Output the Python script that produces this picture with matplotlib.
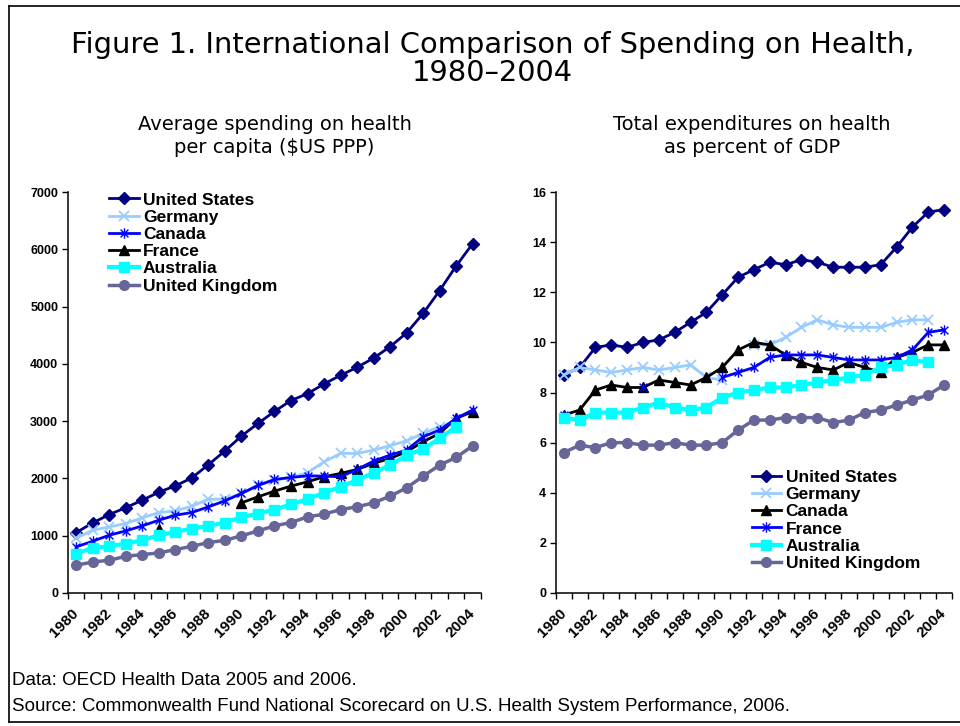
import numpy as np
import matplotlib
matplotlib.use("Agg")
import matplotlib.pyplot as plt
from matplotlib.lines import Line2D
from matplotlib.path import Path

nan = np.nan

YEARS = list(range(1980, 2005))
YEAR_LABELS = [str(y) if y % 2 == 0 else "" for y in YEARS]

# Left panel: per capita spending ($US PPP)
PC_US = [1055, 1225, 1370, 1490, 1620, 1760, 1870, 2010, 2240, 2480, 2740, 2960, 3170,
         3360, 3480, 3650, 3800, 3940, 4100, 4300, 4540, 4880, 5280, 5710, 6100]
PC_GERMANY = [960, 1096, 1154, 1213, 1312, 1405, 1434, 1516, 1638, 1638, 1737, 1883, 1970,
              2017, 2100, 2290, 2437, 2437, 2495, 2571, 2658, 2787, 2903, 2990, nan]
PC_CANADA = [805, 904, 1009, 1084, 1172, 1271, 1358, 1405, 1504, 1609, 1737, 1877, 1982,
             2017, 2046, 2040, 2029, 2157, 2303, 2408, 2495, 2728, 2845, 3049, 3195]
PC_FRANCE = [700, nan, nan, nan, nan, 1120, nan, nan, nan, nan, 1574, 1679, 1778,
             1866, 1941, 2029, 2087, 2157, 2262, 2350, 2466, 2641, 2787, 3049, 3166]
PC_AUSTRALIA = [688, 787, 816, 863, 921, 1009, 1067, 1125, 1172, 1230, 1323, 1387, 1457,
                1545, 1638, 1749, 1854, 1970, 2099, 2233, 2408, 2513, 2699, 2903, nan]
PC_UK = [484, 542, 571, 641, 670, 700, 758, 816, 880, 921, 997, 1084, 1172,
         1230, 1329, 1376, 1457, 1504, 1574, 1690, 1836, 2040, 2233, 2367, 2570]

# Right panel: total expenditures as percent of GDP
GDP_US = [8.7, 9.0, 9.8, 9.9, 9.8, 10.0, 10.1, 10.4, 10.8, 11.2, 11.9, 12.6, 12.9,
          13.2, 13.1, 13.3, 13.2, 13.0, 13.0, 13.0, 13.1, 13.8, 14.6, 15.2, 15.3]
GDP_GERMANY = [8.7, 9.0, 8.9, 8.8, 8.9, 9.0, 8.9, 9.0, 9.1, 8.6, 8.5, nan, 9.9,
               9.9, 10.2, 10.6, 10.9, 10.7, 10.6, 10.6, 10.6, 10.8, 10.9, 10.9, nan]
GDP_CANADA = [7.1, 7.3, 8.1, 8.3, 8.2, 8.2, 8.5, 8.4, 8.3, 8.6, 9.0, 9.7, 10.0,
              9.9, 9.5, 9.2, 9.0, 8.9, 9.2, 9.0, 8.8, 9.4, 9.6, 9.9, 9.9]
GDP_FRANCE = [7.1, nan, nan, nan, nan, 8.2, nan, nan, nan, nan, 8.6, 8.8, 9.0,
              9.4, 9.5, 9.5, 9.5, 9.4, 9.3, 9.3, 9.3, 9.4, 9.7, 10.4, 10.5]
GDP_AUSTRALIA = [7.0, 6.9, 7.2, 7.2, 7.2, 7.4, 7.6, 7.4, 7.3, 7.4, 7.8, 8.0, 8.1,
                 8.2, 8.2, 8.3, 8.4, 8.5, 8.6, 8.7, 9.0, 9.1, 9.3, 9.2, nan]
GDP_UK = [5.6, 5.9, 5.8, 6.0, 6.0, 5.9, 5.9, 6.0, 5.9, 5.9, 6.0, 6.5, 6.9,
          6.9, 7.0, 7.0, 7.0, 6.8, 6.9, 7.2, 7.3, 7.5, 7.7, 7.9, 8.3]

LEGEND_ORDER = ["United States", "Germany", "Canada", "France", "Australia", "United Kingdom"]

NAVY = "#000080"
LIGHT_BLUE = "#99CCFF"
BLUE = "#0000FF"
BLACK = "#000000"
CYAN = "#00FFFF"
PURPLE = "#666699"

# Excel style asterisk: vertical bar plus an x
STAR = Path([(0, -1), (0, 1), (-0.75, -0.75), (0.75, 0.75), (-0.75, 0.75), (0.75, -0.75)],
            [Path.MOVETO, Path.LINETO, Path.MOVETO, Path.LINETO, Path.MOVETO, Path.LINETO])

XTICK_FONT = {"family": "Liberation Sans", "weight": "bold", "size": 11}
LEGEND_FONT = {"family": "Liberation Sans", "weight": "bold", "size": 12.5}


def draw_series(ax, x, y, color, marker, label, lw=2.0, ms=6.5, mew=1.0):
    face = "none" if marker in ("x", STAR) else color
    ax.plot(x, y, color=color, linewidth=lw, marker=marker, markersize=ms,
            markerfacecolor=face, markeredgecolor=color, markeredgewidth=mew,
            label=label)


def style_axis(ax, ymax, ystep):
    n = len(YEARS)
    ax.set_xlim(-0.5, n - 0.5)
    ax.set_ylim(0, ymax)
    ax.set_yticks(np.arange(0, ymax + ystep / 2, ystep))
    ax.set_xticks(np.arange(n))
    ax.set_xticklabels(YEAR_LABELS, rotation=45, ha="right", va="center",
                       rotation_mode="anchor", fontdict=XTICK_FONT)
    ax.set_xticks(np.arange(-0.5, n, 1), minor=True)
    ax.tick_params(axis="x", which="major", length=0, pad=13)
    ax.tick_params(axis="x", which="minor", length=4, width=1, direction="out")
    ax.tick_params(axis="y", length=4, width=1, direction="out", pad=3)
    for lbl in ax.get_yticklabels():
        lbl.set_fontfamily("Liberation Sans")
        lbl.set_fontweight("bold")
        lbl.set_fontsize(9)
    for side in ("top", "right"):
        ax.spines[side].set_visible(False)
    for side in ("left", "bottom"):
        ax.spines[side].set_linewidth(1.1)


def add_legend(ax, labels, anchor):
    handles, names = ax.get_legend_handles_labels()
    ordered = [handles[names.index(k)] for k in LEGEND_ORDER]
    fig.legend(ordered, labels, loc="upper left", bbox_to_anchor=anchor,
               frameon=False, borderpad=0, handlelength=1.7, handletextpad=0.25,
               labelspacing=0.12, prop=LEGEND_FONT)


fig = plt.figure(figsize=(9.6, 7.26), dpi=100)
x = np.arange(len(YEARS))

# ---- left panel ----
ax1 = fig.add_axes([0.0708, 0.1832, 0.4302, 0.5523])
draw_series(ax1, x, PC_US, NAVY, "D", "United States", ms=6)
draw_series(ax1, x, PC_GERMANY, LIGHT_BLUE, "x", "Germany", lw=2.0, ms=7, mew=1.3)
draw_series(ax1, x, PC_FRANCE, BLACK, "^", "France", ms=7)
draw_series(ax1, x, PC_CANADA, BLUE, STAR, "Canada", ms=7.5, mew=1.0)
draw_series(ax1, x, PC_AUSTRALIA, CYAN, "s", "Australia", lw=3.0, ms=7)
draw_series(ax1, x, PC_UK, PURPLE, "o", "United Kingdom", lw=2.5, ms=7)
style_axis(ax1, 7000, 1000)
add_legend(ax1, LEGEND_ORDER, (0.1045, 0.747))

# ---- right panel ----
ax2 = fig.add_axes([0.579, 0.1832, 0.4127, 0.5523])
draw_series(ax2, x, GDP_US, NAVY, "D", "United States", ms=6)
draw_series(ax2, x, GDP_GERMANY, LIGHT_BLUE, "x", "Germany", lw=2.0, ms=7, mew=1.3)
draw_series(ax2, x, GDP_CANADA, BLACK, "^", "Canada", ms=7)
draw_series(ax2, x, GDP_FRANCE, BLUE, STAR, "France", ms=7.5, mew=1.0)
draw_series(ax2, x, GDP_AUSTRALIA, CYAN, "s", "Australia", lw=3.0, ms=7)
draw_series(ax2, x, GDP_UK, PURPLE, "o", "United Kingdom", lw=2.5, ms=7)
style_axis(ax2, 16, 2)
add_legend(ax2, LEGEND_ORDER, (0.774, 0.365))

# ---- titles and notes ----
fig.text(0.513, 0.938, "Figure 1. International Comparison of Spending on Health,",
         ha="center", va="center", fontsize=20.8, family="DejaVu Sans")
fig.text(0.513, 0.899, "1980\u20132004", ha="center", va="center", fontsize=20.8,
         family="DejaVu Sans")
fig.text(0.286, 0.828, "Average spending on health", ha="center", va="center",
         fontsize=14, family="DejaVu Sans")
fig.text(0.286, 0.797, "per capita ($US PPP)", ha="center", va="center",
         fontsize=14, family="DejaVu Sans")
fig.text(0.783, 0.828, "Total expenditures on health", ha="center", va="center",
         fontsize=14, family="DejaVu Sans")
fig.text(0.783, 0.797, "as percent of GDP", ha="center", va="center",
         fontsize=14, family="DejaVu Sans")

fig.text(0.0125, 0.063, "Data: OECD Health Data 2005 and 2006.", ha="left", va="center",
         fontsize=13.5, family="Liberation Sans")
fig.text(0.0125, 0.0275,
         "Source: Commonwealth Fund National Scorecard on U.S. Health System Performance, 2006.",
         ha="left", va="center", fontsize=13.5, family="Liberation Sans")

# outer frame
for xs, ys in [((0.009, 0.009), (0.006, 0.992)), ((0.009, 1.0), (0.992, 0.992)),
               ((0.009, 1.0), (0.006, 0.006))]:
    fig.add_artist(Line2D(xs, ys, color="black", linewidth=1.2, transform=fig.transFigure))

fig.savefig("out.png", dpi=100)
